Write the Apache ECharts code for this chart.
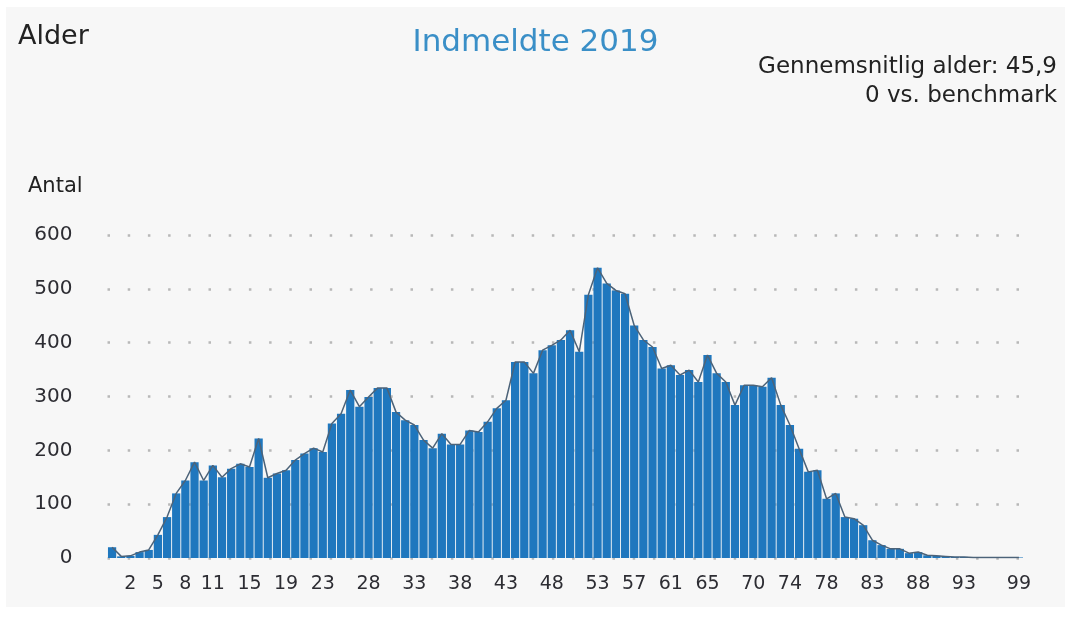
<!DOCTYPE html>
<html>
<head>
<meta charset="utf-8">
<script src="https://cdn.jsdelivr.net/npm/echarts@6/dist/echarts.min.js"></script>
<style>
    html, body { margin: 0; padding: 0; background: #ffffff; }
    #chart { position: absolute; left: 6px; top: 7px; width: 1059px; height: 600px; }
</style>
</head>
<body>
<div id="chart"></div>
<script>
// alder 0..99
let ages = [];
for (let i = 0; i < 100; i++) ages.push(String(i));

let antal = [20, 3, 4, 11, 15, 43, 76, 120, 144, 178,
    144, 172, 150, 166, 175, 169, 222, 149, 157, 163,
    182, 194, 204, 197, 250, 268, 312, 281, 299, 316,
    316, 271, 256, 247, 219, 204, 231, 211, 211, 237,
    234, 253, 278, 293, 364, 364, 343, 386, 395, 405,
    423, 383, 489, 539, 510, 497, 491, 432, 405, 392,
    352, 358, 340, 349, 327, 377, 343, 327, 284, 321,
    321, 318, 335, 284, 247, 203, 160, 163, 110, 120,
    76, 73, 61, 33, 24, 17, 17, 9, 11, 5,
    4, 3, 2, 2, 1, 1, 1, 1, 1, 1];

// de aldre der har label paa x-aksen
let shownAges = [2, 5, 8, 11, 15, 19, 23, 28, 33, 38, 43, 48, 53, 57, 61, 65, 70, 74, 78, 83, 88, 93, 99];

let font = 'DejaVu Sans';

let option = {
    backgroundColor: '#f7f7f7',
    // overskrifter som graphic, saa de kan placeres praecist
    graphic: [
        {
            type: 'text', left: 12, top: 16,
            style: { text: 'Alder', font: '27px ' + font, fill: '#222' }
        },
        {
            type: 'text', left: 'center', top: 20,
            style: { text: 'Indmeldte 2019', font: '31px ' + font, fill: '#3a8fc7' }
        },
        {
            type: 'text', right: 8, top: 49,
            style: { text: 'Gennemsnitlig alder: 45,9', font: '23px ' + font, fill: '#222' }
        },
        {
            type: 'text', right: 8, top: 78,
            style: { text: '0 vs. benchmark', font: '23px ' + font, fill: '#222' }
        },
        {
            type: 'text', left: 22, top: 169,
            style: { text: 'Antal', font: '21px ' + font, fill: '#222' }
        }
    ],
    grid: {
        left: 101.5,
        right: 41.5,
        top: 228,
        bottom: 49,
        containLabel: false
    },
    xAxis: {
        type: 'category',
        data: ages,
        axisLine: { show: false },
        axisTick: { show: false },
        axisLabel: {
            interval: function (idx) { return shownAges.indexOf(idx) >= 0; },
            margin: 17,
            fontFamily: font,
            fontSize: 19,
            color: '#2d2d33'
        }
    },
    yAxis: {
        type: 'value',
        min: 0,
        max: 600,
        interval: 100,
        axisLabel: {
            margin: 35,
            fontFamily: font,
            fontSize: 20,
            color: '#2d2d33'
        },
        splitLine: {
            lineStyle: { type: [2.5, 17.7], color: '#b8b8b8', width: 2.5 }
        }
    },
    series: [
        {
            type: 'bar',
            data: antal,
            barCategoryGap: '10%',
            itemStyle: { color: '#1f77be' }
        },
        {
            type: 'line',
            data: antal,
            symbol: 'none',
            z: 5,
            lineStyle: { color: '#4c6379', width: 1.5 }
        }
    ]
};

var myChart = echarts.init(document.getElementById('chart'));
myChart.setOption(option, true);
</script>
</body>
</html>
